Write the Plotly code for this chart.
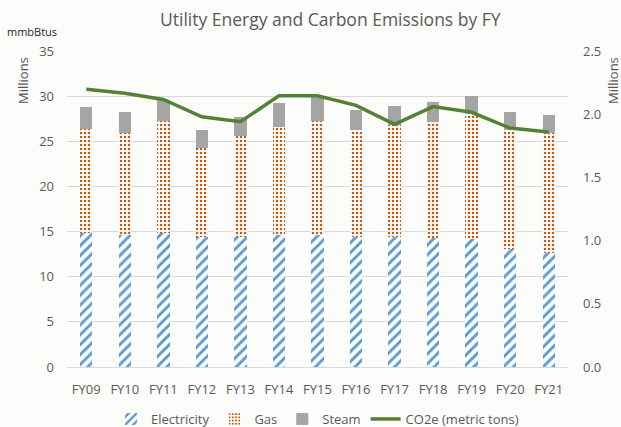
import plotly.graph_objects as go

categories = ["FY09", "FY10", "FY11", "FY12", "FY13", "FY14", "FY15",
              "FY16", "FY17", "FY18", "FY19", "FY20", "FY21"]
electricity = [14.8, 14.6, 14.8, 14.4, 14.4, 14.6, 14.6, 14.4, 14.4, 14.3, 14.15, 13.1, 12.6]
gas = [11.6, 11.3, 12.4, 9.9, 11.2, 12.0, 12.6, 11.9, 12.4, 12.8, 13.85, 13.1, 13.3]
steam = [2.35, 2.3, 2.4, 2.0, 2.1, 2.6, 2.7, 2.2, 2.1, 2.2, 2.05, 2.0, 2.0]
co2e = [2.197, 2.165, 2.117, 1.98, 1.94, 2.146, 2.146, 2.07, 1.92, 2.06, 2.015, 1.89, 1.86]

left_ticks = [0, 5, 10, 15, 20, 25, 30, 35]
right_ticks = [0.0, 0.5, 1.0, 1.5, 2.0, 2.5]

W, H = 621, 427
# plot area in window pixels
PL, PR, PT, PB = 67, 568, 51, 367
ML, MT, MR, MB = PL, PT, W - PR, H - PB
PH = PB - PT
PW = PR - PL

FONT = "Open Sans"
GRAY = "#595959"
BG = "#FCFCFB"

def px_x(p):
    return (p - PL) / PW

def px_y(p):
    return (PB - p) / PH

fig = go.Figure()
fig.add_trace(go.Bar(
    x=categories, y=electricity, name="Electricity",
    marker=dict(color="white", line=dict(width=0),
                pattern=dict(shape="/", fgcolor="#5B9BD5", bgcolor="white",
                             fgopacity=1, size=7, solidity=0.42, fillmode="replace")),
))
fig.add_trace(go.Bar(
    x=categories, y=gas, name="Gas",
    marker=dict(color="white", line=dict(width=0),
                pattern=dict(shape=".", fgcolor="#C55A11", bgcolor="white",
                             fgopacity=1, size=4, solidity=0.3, fillmode="replace")),
))
fig.add_trace(go.Bar(
    x=categories, y=steam, name="Steam",
    marker=dict(color="#A5A5A5", line=dict(width=0)),
))
fig.add_trace(go.Scatter(
    x=categories, y=co2e, name="CO2e (metric tons)", yaxis="y2",
    mode="lines", line=dict(color="#548235", width=3.5),
))

fig.update_layout(
    width=W, height=H,
    margin=dict(l=ML, r=MR, t=MT, b=MB, autoexpand=False),
    paper_bgcolor=BG, plot_bgcolor=BG,
    barmode="stack", bargap=0.68,
    font=dict(family=FONT, size=13, color=GRAY),
    showlegend=True,
    legend=dict(orientation="h", x=0.5, xanchor="center",
                y=px_y(419), yanchor="middle", traceorder="normal",
                font=dict(family=FONT, size=13, color=GRAY),
                bgcolor="rgba(0,0,0,0)", itemwidth=30),
    xaxis=dict(showgrid=False, showline=True, linecolor="#D9D9D9", linewidth=1,
               ticks="", tickfont=dict(size=13, color=GRAY), ticklabelstandoff=10),
    yaxis=dict(range=[0, 35], tickvals=left_ticks, showgrid=True,
               gridcolor="#D9D9D9", gridwidth=1, zeroline=False, showline=False,
               ticks="", tickfont=dict(size=13, color=GRAY), ticklabelstandoff=12),
    yaxis2=dict(range=[0, 2.5], tickvals=right_ticks, tickformat=".1f",
                overlaying="y", side="right", showgrid=False, zeroline=False,
                showline=False, ticks="", tickfont=dict(size=13, color=GRAY),
                ticklabelstandoff=14),
)

fig.add_annotation(text="Utility Energy and Carbon Emissions by FY",
                   xref="paper", yref="paper", x=px_x(330), y=px_y(19),
                   xanchor="center", yanchor="middle", showarrow=False,
                   font=dict(family=FONT, size=17.5, color=GRAY))
fig.add_annotation(text="mmbBtus", xref="paper", yref="paper",
                   x=px_x(5), y=px_y(32), xanchor="left", yanchor="middle",
                   showarrow=False, font=dict(family=FONT, size=11, color="#262626"))
fig.add_annotation(text="Millions", xref="paper", yref="paper",
                   x=px_x(23), y=px_y(81), xanchor="center", yanchor="middle",
                   textangle=-90, showarrow=False,
                   font=dict(family=FONT, size=13, color=GRAY))
fig.add_annotation(text="Millions", xref="paper", yref="paper",
                   x=px_x(613), y=px_y(81), xanchor="center", yanchor="middle",
                   textangle=-90, showarrow=False,
                   font=dict(family=FONT, size=13, color=GRAY))

fig.write_html("out.html",
               config={"displayModeBar": False},
               post_script="document.body.style.margin='0';document.body.style.overflow='hidden';")
